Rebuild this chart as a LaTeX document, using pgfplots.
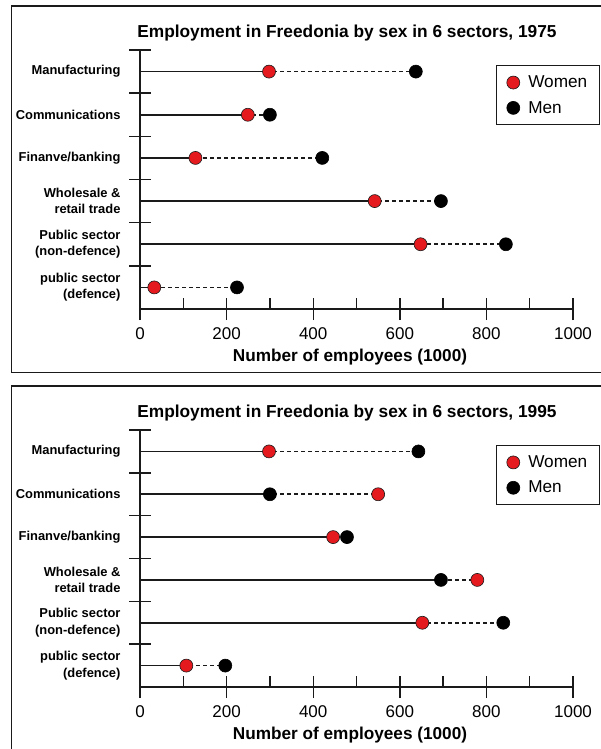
\documentclass[border=0pt]{standalone}
\usepackage{pgfplots}
\pgfplotsset{compat=1.18}
\usepackage{pgfplotstable}
\usepackage{fontspec}
\setmainfont{Liberation Sans}
\definecolor{wred}{HTML}{E41A1F}
\definecolor{ink}{HTML}{1A1A1A}

% pos: 5 = top category
\pgfplotstableread{
pos women men lo hi
5 298 637 298 637
4 249 300 249 300
3 128 421 128 421
2 542 695 542 695
1 648 845 648 845
0 33 224 33 224
}\dataA
\pgfplotstableread{
pos women men lo hi
5 298 643 298 643
4 550 300 300 550
3 446 478 446 478
2 779 695 695 779
1 652 839 652 839
0 107 197 107 197
}\dataB

\pgfplotsset{
  dumbbell/.style={
    scale only axis, width=433pt,
    xmin=0, xmax=1000, ymin=-0.5, ymax=5.5,
    clip=false,
    axis lines=left,
    axis line style={-, ink, line width=1.5pt},
    every tick/.style={ink, line width=1.4pt},
    tick align=center,
    major tick length=22pt,
    xtick={0,200,...,1000},
    xticklabel style={font=\fontsize{17}{20}\selectfont, yshift=-4pt},
    /pgf/number format/assume math mode=true,
    /pgf/number format/1000 sep={},
    ytick={0.5,1.5,...,5.5},
    yticklabels={},
    extra y ticks={0,1,2,3,4,5},
    extra y tick labels={{public sector\\(defence)},{Public sector\\(non-defence)},{Wholesale \&\\retail trade},{Finanve/banking},{Communications},{Manufacturing}},
    extra y tick style={major tick length=0pt, yticklabel style={align=right, font=\bfseries\fontsize{12.9}{16.2}\selectfont, xshift=-16pt}},
    extra x ticks={100,300,500,700,900},
    extra x tick labels={},
    extra x tick style={major tick length=11pt, tick align=inside},
    xlabel={Number of employees (1000)},
    xlabel style={font=\bfseries\fontsize{17.2}{20}\selectfont, at={(axis description cs:0.485,0)}, anchor=north, yshift=-36pt},
    legend style={at={(1.062,0.941)}, anchor=north east, draw=ink, line width=1.2pt,
      font=\fontsize{17.2}{20}\selectfont, inner xsep=10pt, inner ysep=8pt, row sep=8pt,
      nodes={inner sep=2pt}},
    legend cell align=left,
    legend image code/.code={\path[draw=none, fill=none] (0pt,-6pt) rectangle (20pt,6pt); \draw[##1, line width=0.6pt] plot coordinates {(7pt,0pt)};},
  },
}

\begin{document}
\begin{tikzpicture}
\useasboundingbox (0pt,0pt) rectangle (600pt,-749pt);
\draw[ink, line width=1.4pt] (630pt,-6pt) -- (11.5pt,-6pt) -- (11.5pt,-372.5pt) -- (630pt,-372.5pt);
\draw[ink, line width=1.4pt] (630pt,-386pt) -- (11.5pt,-386pt) -- (11.5pt,-780pt);

% 1975
\begin{axis}[dumbbell, height=259pt, at={(140pt,-309pt)}, anchor=south west]
\node[font=\bfseries\fontsize{17.3}{20}\selectfont] at (rel axis cs:0.478,1) [yshift=17pt] {Employment in Freedonia by sex in 6 sectors, 1975};
\addplot[forget plot, xcomb, ink, line width=1.6pt, dash pattern=on 4pt off 3pt, mark=none] table[x=hi, y=pos] {\dataA};
\addplot[forget plot, xcomb, ink, line width=1.6pt, mark=none] table[x=lo, y=pos] {\dataA};
\addplot[only marks, mark=*, mark size=6.5pt, mark options={fill=wred, draw=ink, line width=0.6pt}] table[x=women, y=pos] {\dataA};
\addlegendentry{Women}
\addplot[only marks, mark=*, mark size=6.5pt, mark options={fill=black, draw=black, line width=0.6pt}] table[x=men, y=pos] {\dataA};
\addlegendentry{Men}
\end{axis}

% 1995
\begin{axis}[dumbbell, height=257pt, at={(140pt,-687pt)}, anchor=south west]
\node[font=\bfseries\fontsize{17.3}{20}\selectfont] at (rel axis cs:0.478,1) [yshift=17pt] {Employment in Freedonia by sex in 6 sectors, 1995};
\addplot[forget plot, xcomb, ink, line width=1.6pt, dash pattern=on 4pt off 3pt, mark=none] table[x=hi, y=pos] {\dataB};
\addplot[forget plot, xcomb, ink, line width=1.6pt, mark=none] table[x=lo, y=pos] {\dataB};
\addplot[only marks, mark=*, mark size=6.5pt, mark options={fill=wred, draw=ink, line width=0.6pt}] table[x=women, y=pos] {\dataB};
\addlegendentry{Women}
\addplot[only marks, mark=*, mark size=6.5pt, mark options={fill=black, draw=black, line width=0.6pt}] table[x=men, y=pos] {\dataB};
\addlegendentry{Men}
\end{axis}
\end{tikzpicture}
\end{document}
